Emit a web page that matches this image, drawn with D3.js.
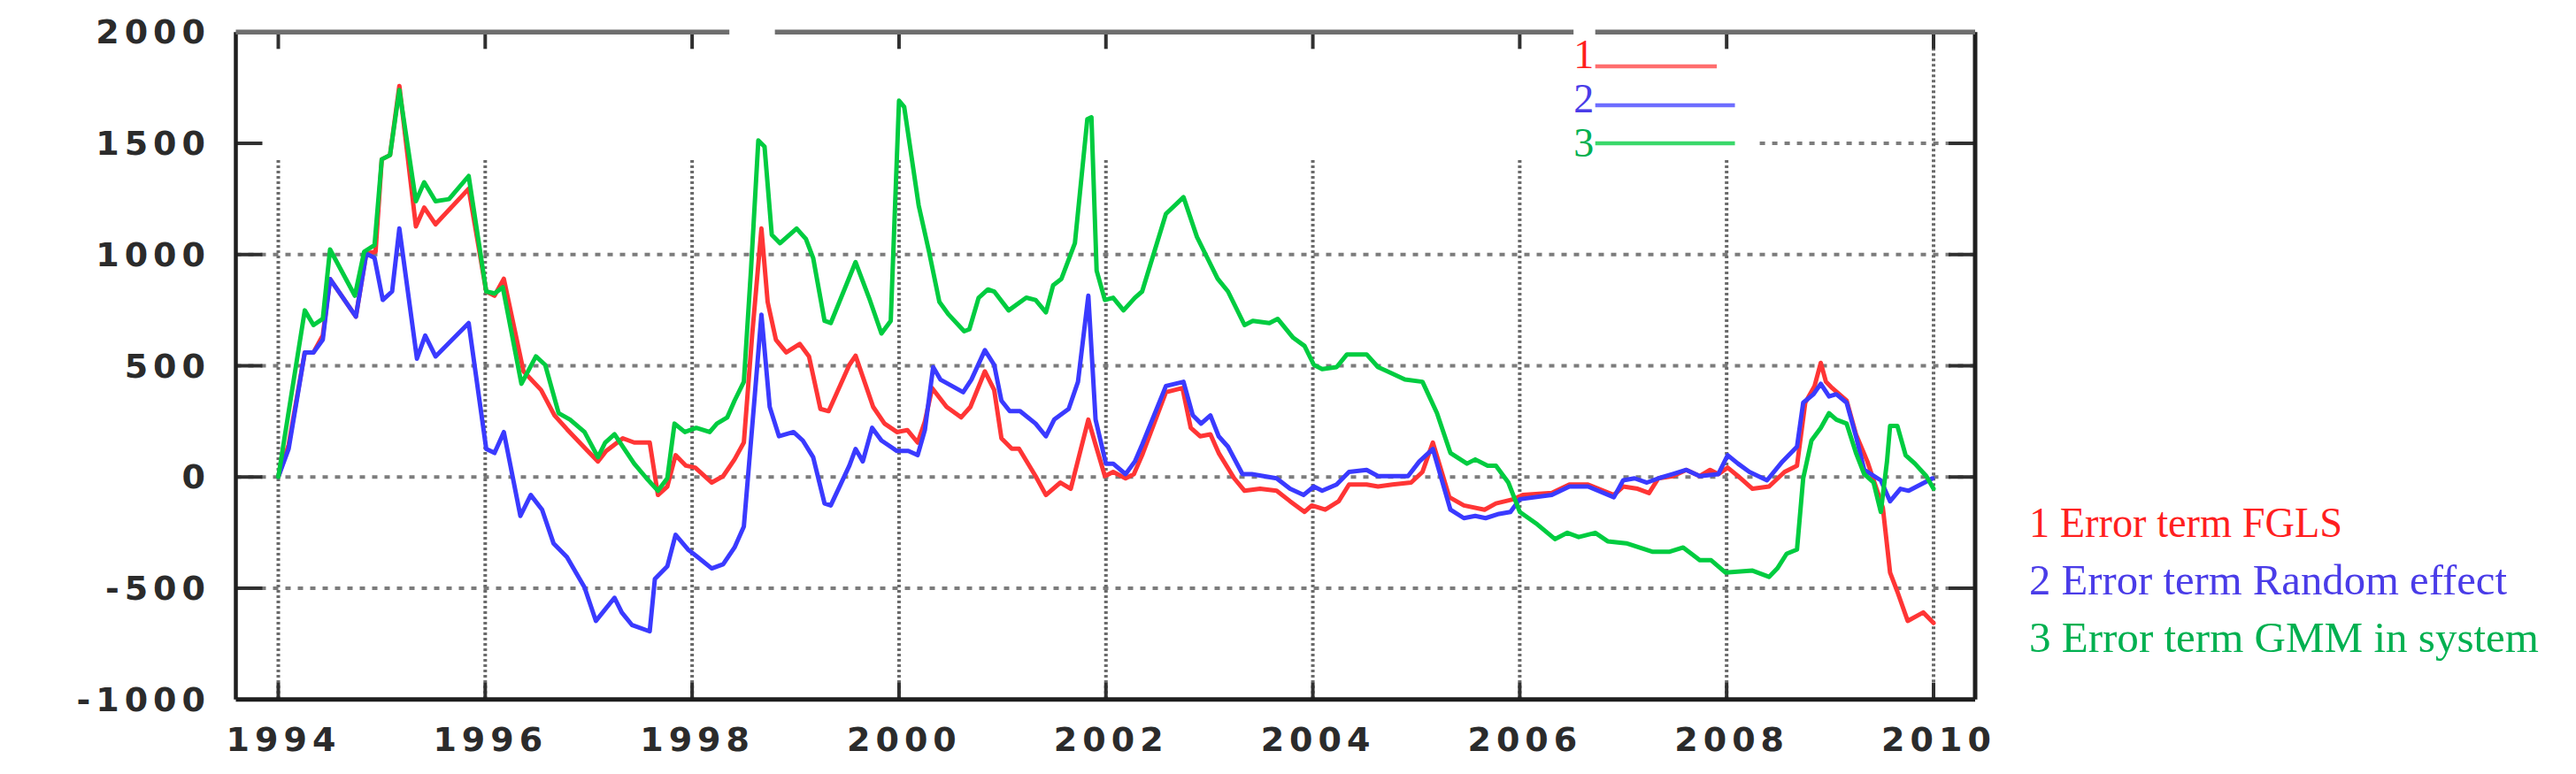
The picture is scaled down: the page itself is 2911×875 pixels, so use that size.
<!DOCTYPE html>
<html>
<head>
<meta charset="utf-8">
<script src="https://cdn.jsdelivr.net/npm/d3@7"></script>
<style>
  html, body { margin: 0; padding: 0; background: #ffffff; }
  svg { display: block; }
</style>
</head>
<body>
<svg id="chart" width="2911" height="875"></svg>
<script>
// ---------------- DATA ----------------
const xTicks = [1994, 1996, 1998, 2000, 2002, 2004, 2006, 2008, 2010];
const yTicks = [2000, 1500, 1000, 500, 0, -500, -1000];
const gridValues = [1000, 500, 0, -500];
const seriesNames = ["1 Error term FGLS", "2 Error term Random effect", "3 Error term GMM in system"];
const keyNumbers = ["1", "2", "3"];

// Series 1: Error term FGLS
const yearsFGLS = [1994.00,1994.10,1994.256,1994.34,1994.43,1994.50,1994.75,1994.85,1994.94,1995.00,1995.08,1995.17,1995.33,1995.41,1995.52,1995.84,1996.01,1996.09,1996.18,1996.37,1996.54,1996.67,1996.79,1996.99,1997.09,1997.17,1997.33,1997.44,1997.59,1997.67,1997.76,1997.84,1997.94,1998.03,1998.19,1998.30,1998.41,1998.50,1998.58,1998.67,1998.73,1998.81,1998.91,1999.04,1999.13,1999.24,1999.32,1999.52,1999.58,1999.75,1999.86,1999.98,2000.08,2000.18,2000.25,2000.32,2000.46,2000.60,2000.69,2000.83,2000.92,2000.99,2001.09,2001.16,2001.32,2001.42,2001.56,2001.66,2001.83,2001.90,2001.99,2002.07,2002.19,2002.27,2002.35,2002.58,2002.74,2002.82,2002.91,2003.01,2003.09,2003.24,2003.34,2003.49,2003.65,2003.78,2003.92,2003.99,2004.12,2004.25,2004.35,2004.52,2004.63,2004.77,2004.95,2005.06,2005.16,2005.32,2005.46,2005.66,2005.77,2005.94,2006.03,2006.31,2006.48,2006.66,2006.91,2007.00,2007.14,2007.25,2007.34,2007.48,2007.61,2007.74,2007.84,2007.92,2008.01,2008.11,2008.25,2008.41,2008.56,2008.68,2008.76,2008.85,2008.91,2008.96,2009.02,2009.16,2009.25,2009.36,2009.51,2009.58,2009.65,2009.75,2009.90,2010.00];
const valuesFGLS = [0,145,560,560,636,890,721,1004,1013,1428,1447,1758,1126,1211,1136,1296,834,815,891,475,391,277,215,117,70,117,174,155,155,-81,-43,98,51,42,-25,4,79,155,636,1117,787,617,560,598,542,306,296,504,545,315,240,202,211,155,249,400,315,268,315,475,391,174,127,127,4,-81,-25,-53,258,145,4,23,-6,13,98,381,400,221,183,192,108,-6,-62,-53,-62,-109,-157,-128,-147,-109,-34,-34,-43,-34,-25,23,155,-91,-128,-147,-119,-100,-81,-72,-34,-34,-81,-43,-53,-72,-6,4,32,4,32,13,42,4,-53,-43,23,51,334,409,513,428,400,343,192,70,-138,-430,-515,-647,-609,-656];

// Series 2: Error term Random effect
const yearsRE = [1994.00,1994.10,1994.256,1994.34,1994.43,1994.50,1994.75,1994.85,1994.93,1995.01,1995.10,1995.17,1995.34,1995.42,1995.52,1995.84,1996.01,1996.09,1996.18,1996.34,1996.44,1996.55,1996.66,1996.79,1996.96,1997.07,1997.25,1997.32,1997.42,1997.59,1997.64,1997.76,1997.84,1997.96,1998.04,1998.19,1998.30,1998.41,1998.50,1998.60,1998.67,1998.75,1998.84,1998.98,1999.07,1999.17,1999.28,1999.34,1999.52,1999.58,1999.65,1999.74,1999.83,1999.98,2000.09,2000.18,2000.25,2000.33,2000.40,2000.62,2000.70,2000.83,2000.92,2000.99,2001.07,2001.17,2001.32,2001.42,2001.50,2001.64,2001.73,2001.83,2001.90,2002.00,2002.07,2002.19,2002.28,2002.35,2002.58,2002.75,2002.84,2002.92,2003.01,2003.09,2003.18,2003.32,2003.41,2003.65,2003.78,2003.91,2004.01,2004.09,2004.23,2004.35,2004.52,2004.63,2004.92,2005.03,2005.16,2005.33,2005.46,2005.57,2005.67,2005.80,2005.91,2006.00,2006.31,2006.48,2006.66,2006.91,2007.00,2007.11,2007.23,2007.34,2007.48,2007.61,2007.74,2007.92,2008.01,2008.11,2008.22,2008.39,2008.54,2008.68,2008.74,2008.84,2008.91,2008.99,2009.06,2009.16,2009.25,2009.33,2009.49,2009.58,2009.68,2009.76,2009.99];
const valuesRE = [0,127,560,560,617,890,721,1004,985,796,834,1117,532,636,542,692,126,108,202,-175,-81,-147,-298,-360,-496,-647,-543,-609,-666,-694,-458,-402,-260,-326,-355,-411,-392,-317,-223,334,730,315,183,202,164,89,-119,-128,51,126,70,221,164,117,117,98,211,494,438,381,438,570,504,343,296,296,240,183,258,306,428,815,258,60,60,13,70,145,409,428,277,240,277,183,136,13,13,-6,-53,-81,-43,-62,-34,23,32,4,4,70,126,-147,-185,-175,-185,-166,-157,-100,-81,-43,-43,-91,-15,-6,-25,-6,13,32,4,13,98,60,23,-15,70,136,334,372,419,362,372,334,183,32,-15,-109,-53,-62,-6];

// Series 3: Error term GMM in system
const yearsGMM = [1994.00,1994.256,1994.34,1994.43,1994.50,1994.74,1994.83,1994.93,1995.00,1995.08,1995.17,1995.33,1995.41,1995.52,1995.65,1995.84,1996.01,1996.09,1996.17,1996.35,1996.49,1996.58,1996.71,1996.82,1996.96,1997.09,1997.16,1997.25,1997.44,1997.56,1997.67,1997.76,1997.83,1997.93,1998.04,1998.17,1998.24,1998.34,1998.41,1998.50,1998.57,1998.64,1998.70,1998.77,1998.85,1999.01,1999.10,1999.17,1999.28,1999.34,1999.58,1999.71,1999.83,1999.92,2000.00,2000.05,2000.19,2000.29,2000.39,2000.48,2000.63,2000.68,2000.77,2000.86,2000.92,2001.06,2001.23,2001.32,2001.42,2001.49,2001.57,2001.70,2001.82,2001.86,2001.91,2001.99,2002.07,2002.17,2002.28,2002.35,2002.58,2002.75,2002.88,2002.96,2003.08,2003.18,2003.34,2003.42,2003.58,2003.66,2003.81,2003.92,2004.01,2004.09,2004.23,2004.33,2004.52,2004.63,2004.72,2004.89,2005.06,2005.20,2005.33,2005.49,2005.57,2005.69,2005.77,2005.89,2006.00,2006.17,2006.34,2006.46,2006.57,2006.73,2006.85,2007.03,2007.28,2007.45,2007.58,2007.74,2007.85,2007.99,2008.25,2008.41,2008.49,2008.58,2008.68,2008.74,2008.82,2008.91,2008.99,2009.06,2009.16,2009.25,2009.33,2009.42,2009.49,2009.55,2009.58,2009.65,2009.73,2009.82,2009.93,2010.00];
const valuesGMM = [0,749,683,711,1023,815,1013,1042,1428,1447,1740,1240,1325,1240,1249,1353,834,825,853,419,542,504,287,258,202,89,155,192,60,-6,-62,-6,240,202,221,202,240,268,343,428,938,1513,1485,1089,1051,1117,1070,985,702,692,966,806,645,702,1692,1664,1221,1013,787,730,655,664,806,843,834,749,806,796,740,862,891,1051,1608,1617,928,796,806,749,806,834,1183,1258,1079,1004,891,834,683,702,692,711,626,589,504,485,494,551,551,494,475,438,428,287,108,60,79,51,51,-25,-157,-213,-279,-251,-270,-251,-289,-298,-336,-336,-317,-374,-374,-430,-421,-449,-411,-345,-326,-6,164,221,287,258,240,108,13,-25,-157,70,230,230,98,60,4,-53];

// ---------------- STYLE / LAYOUT ----------------
const lineColors = ["#ff3535", "#3a3aff", "#00cc40"];
const keyLineColors = ["#ff6e6e", "#6e6eff", "#3ad86a"];
const textColors = ["#ff1f1f", "#4a3ce8", "#00b050"];

const svg = d3.select("#chart");
const x = d3.scaleLinear().domain([1994, 2010]).range([314.5, 2185]);
const y = d3.scaleLinear().domain([-1000, 2000]).range([790.7, 36.3]);

const frameL = x(1994) - 48, frameR = x(2010) + 47;
const frameT = y(2000), frameB = y(-1000);

// grid: horizontal
const gGrid = svg.append("g");
gGrid.selectAll("line.h").data(gridValues).join("line")
  .attr("x1", frameL).attr("x2", frameR)
  .attr("y1", d => y(d)).attr("y2", d => y(d))
  .attr("stroke", "#7c7c7c").attr("stroke-width", 4)
  .attr("stroke-dasharray", "6,8");
// partial 1500 grid line (rest of it erased in reference)
gGrid.append("line")
  .attr("x1", x(2008.32)).attr("x2", frameR)
  .attr("y1", y(1500)).attr("y2", y(1500))
  .attr("stroke", "#7c7c7c").attr("stroke-width", 4)
  .attr("stroke-dasharray", "6,8");
// vertical grid
gGrid.selectAll("line.v").data(xTicks).join("line")
  .attr("x1", d => x(d)).attr("x2", d => x(d))
  .attr("y1", d => d === 2010 ? frameT : y(1425)).attr("y2", frameB)
  .attr("stroke", "#6a6a6a").attr("stroke-width", 4)
  .attr("stroke-dasharray", "3,3");

// ticks
const gTicks = svg.append("g").attr("stroke", "#303030").attr("stroke-width", 4);
const innerY = yTicks.filter(v => v !== 2000 && v !== -1000);
gTicks.selectAll("line.tl").data(innerY).join("line")
  .attr("x1", frameL).attr("x2", frameL + 30).attr("y1", d => y(d)).attr("y2", d => y(d));
gTicks.selectAll("line.tr").data(innerY).join("line")
  .attr("x1", frameR - 30).attr("x2", frameR).attr("y1", d => y(d)).attr("y2", d => y(d));
gTicks.selectAll("line.tt").data(xTicks).join("line")
  .attr("x1", d => x(d)).attr("x2", d => x(d)).attr("y1", frameT).attr("y2", frameT + 19);
gTicks.selectAll("line.tb").data(xTicks).join("line")
  .attr("x1", d => x(d)).attr("x2", d => x(d)).attr("y1", frameB).attr("y2", frameB - 19);

// frame
const frame = svg.append("g").attr("fill", "none");
frame.append("line").attr("x1", frameL).attr("x2", frameL).attr("y1", frameT).attr("y2", frameB)
  .attr("stroke", "#1e1e1e").attr("stroke-width", 4.5);
frame.append("line").attr("x1", frameR).attr("x2", frameR).attr("y1", frameT).attr("y2", frameB)
  .attr("stroke", "#1e1e1e").attr("stroke-width", 5);
frame.append("line").attr("x1", frameL).attr("x2", frameR).attr("y1", frameB).attr("y2", frameB)
  .attr("stroke", "#1e1e1e").attr("stroke-width", 5);
// top border has two small gaps in the reference
const topSegs = [[frameL, x(1998.36)], [x(1998.80), x(2006.52)], [x(2006.73), frameR]];
frame.selectAll("line.top").data(topSegs).join("line")
  .attr("x1", d => d[0]).attr("x2", d => d[1]).attr("y1", frameT).attr("y2", frameT)
  .attr("stroke", "#6e6e6e").attr("stroke-width", 5.5);

// axis labels
const lblFont = "'DejaVu Sans', Verdana, sans-serif";
svg.append("g").selectAll("text").data(yTicks).join("text")
  .attr("x", 238).attr("y", d => y(d))
  .attr("text-anchor", "end").attr("dominant-baseline", "central")
  .attr("font-family", lblFont).attr("font-size", 38).attr("font-weight", "bold")
  .attr("letter-spacing", 6).attr("fill", "#2b2b2b")
  .text(d => String(d));
svg.append("g").selectAll("text").data(xTicks).join("text")
  .attr("x", d => x(d) + 6).attr("y", 836)
  .attr("text-anchor", "middle").attr("dominant-baseline", "central")
  .attr("font-family", lblFont).attr("font-size", 38).attr("font-weight", "bold")
  .attr("letter-spacing", 6).attr("fill", "#2b2b2b")
  .text(d => String(d));

// series lines
const series = [
  { years: yearsFGLS, values: valuesFGLS },
  { years: yearsRE, values: valuesRE },
  { years: yearsGMM, values: valuesGMM }
];
const line = d3.line().x(d => x(d[0])).y(d => y(d[1]));
svg.append("g").selectAll("path").data(series).join("path")
  .attr("d", s => line(s.years.map((yr, i) => [yr, s.values[i]])))
  .attr("fill", "none")
  .attr("stroke", (s, i) => lineColors[i])
  .attr("stroke-width", 5)
  .attr("stroke-linejoin", "round").attr("stroke-linecap", "round");

// in-plot key (numbers + short lines)
const keyY = [75, 119, 162];
const keyX2 = [x(2007.905), x(2008.08), x(2008.08)];
const gKey = svg.append("g");
gKey.selectAll("line").data(keyNumbers).join("line")
  .attr("x1", x(2006.73)).attr("x2", (d, i) => keyX2[i])
  .attr("y1", (d, i) => keyY[i]).attr("y2", (d, i) => keyY[i])
  .attr("stroke", (d, i) => keyLineColors[i]).attr("stroke-width", 4.5);
gKey.selectAll("text").data(keyNumbers).join("text")
  .attr("x", x(2006.62)).attr("y", (d, i) => keyY[i] + [2, 8, 15][i])
  .attr("text-anchor", "middle")
  .attr("font-family", "'Liberation Serif', 'Times New Roman', serif")
  .attr("font-size", 46)
  .attr("fill", (d, i) => textColors[i])
  .text(d => d);

// legend text on the right
const legLengths = [354, 540, 576];
svg.append("g").selectAll("text").data(seriesNames).join("text")
  .attr("x", frameR + 61).attr("y", (d, i) => 607 + i * 65)
  .attr("font-family", "'Liberation Serif', 'Times New Roman', serif")
  .attr("font-size", 48)
  .attr("textLength", (d, i) => legLengths[i])
  .attr("lengthAdjust", "spacingAndGlyphs")
  .attr("fill", (d, i) => textColors[i])
  .text(d => d);
</script>
</body>
</html>
